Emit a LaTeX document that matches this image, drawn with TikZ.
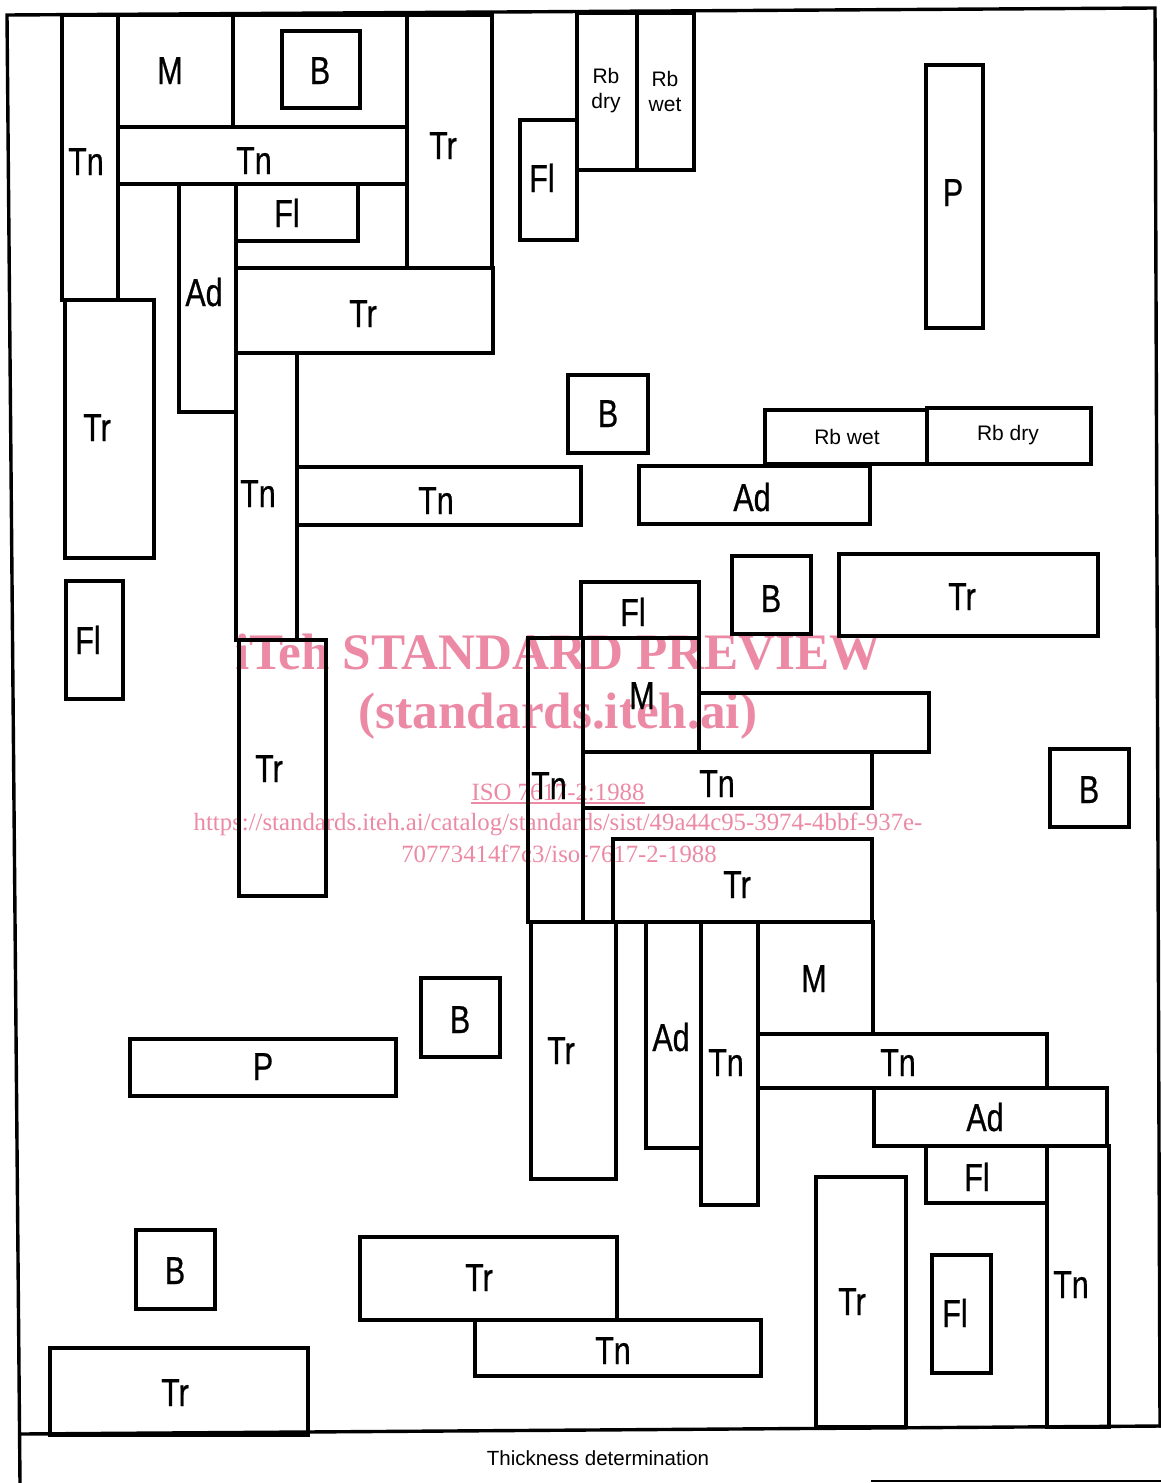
\documentclass[tikz,border=0pt]{standalone}
\usepackage{fontspec}
\setmainfont{Liberation Sans}
\newfontfamily\lblfont[FakeStretch=0.78,FakeBold=0.6]{Liberation Sans}
\newfontfamily\wmfont{Liberation Serif}
\definecolor{wmpink}{RGB}{236,138,166}
\tikzset{
  boxline/.style={draw=black, line width=3.2pt, line join=miter},
  frameline/.style={draw=black, line width=3.4pt, line cap=rect},
  lbl/.style={inner sep=0pt, font=\lblfont\fontsize{39}{39}\selectfont, text height=28pt, text depth=0pt},
  sml/.style={inner sep=0pt, font=\fontsize{21}{25}\selectfont, align=center},
  wm/.style={inner sep=0pt, text=wmpink, anchor=base},
  wmbig/.style={wm, font=\wmfont\bfseries\fontsize{51.2}{51.2}\selectfont},
  wmsmall/.style={wm, font=\wmfont\fontsize{24.8}{24.8}\selectfont},
}
% box: name, x1, y1, x2, y2, label x, label y, label
\newcommand\bx[8]{%
  \draw[boxline] (#2,#3) rectangle (#4,#5);
  \node[lbl] (#1) at (#6,#7) {#8};}
\newcommand\ebx[4]{\draw[boxline] (#1,#2) rectangle (#3,#4);}
\begin{document}
\begin{tikzpicture}[x=1pt,y=-1pt]
\useasboundingbox (0,0) rectangle (1161,1483);
\fill[white] (0,0) rectangle (1161,1483);

% watermark
\node[wmbig] (wm1) at (558,669) {iTeh STANDARD PREVIEW};
\node[wmbig] (wm2) at (558,728) {(standards.iteh.ai)};
\node[wmsmall] (wm3) at (558,800) {ISO 7617-2:1988};
\draw[wmpink, line width=1.5pt] (wm3.base west) ++(0,3) -- ([yshift=-3pt]wm3.base east);
\node[wmsmall] (wm4) at (558,830) {https://standards.iteh.ai/catalog/standards/sist/49a44c95-3974-4bbf-937e-};
\node[wmsmall] (wm5) at (559,862) {70773414f7c3/iso-7617-2-1988};

% frame
\coordinate (tl) at (7,15);
\coordinate (tr) at (1155,8);
\coordinate (bl) at (20,1483);
\coordinate (br) at (1160,1426);
\coordinate (basel) at (20,1434);
\coordinate (baser) at (1161,1426);
\draw[frameline] (bl) -- (tl) -- (tr) -- (br);
\draw[frameline] (basel) -- (baser);
\coordinate (cb1) at (871,1481);
\coordinate (cb2) at (1161,1481);
\draw[black, line width=2pt] (cb1) -- (cb2);

% top-left cluster
\bx{a1}{62}{15}{118}{300}{86}{161}{Tn}
\bx{a2}{118}{15}{233}{127}{170}{70}{M}
\ebx{233}{15}{407}{127}
\bx{a3}{282}{31}{360}{108}{320}{70}{B}
\bx{a4}{118}{127}{407}{184}{254}{160}{Tn}
\bx{a5}{407}{15}{492}{268}{443}{145}{Tr}
\bx{a6}{179}{184}{236}{412}{204}{292}{Ad}
\bx{a7}{236}{184}{358}{241}{287}{213}{Fl}
\ebx{236}{184}{407}{268}
\bx{a8}{236}{268}{493}{353}{363}{313}{Tr}
\bx{a9}{65}{300}{154}{558}{97}{427}{Tr}
\bx{a10}{66}{581}{123}{699}{88}{640}{Fl}
\bx{a11}{236}{353}{297}{640}{258}{493}{Tn}
\bx{a12}{297}{467}{581}{525}{436}{500}{Tn}
\bx{a13}{239}{640}{326}{896}{269}{768}{Tr}

% top-right
\bx{b1}{520}{120}{577}{240}{542}{178}{Fl}
\draw[boxline] (577,13) rectangle (637,170);
\node[sml] (b2) at (606,91) {Rb\\dry};
\draw[boxline] (637,13) rectangle (694,170);
\node[sml] (b3) at (665,91) {Rb\\wet};
\bx{b4}{926}{65}{983}{328}{953}{192}{P}

% middle
\bx{c1}{568}{375}{648}{453}{608}{413}{B}
\draw[boxline] (765,410) rectangle (927,464);
\node[sml] (c2) at (847,437) {Rb wet};
\draw[boxline] (927,408) rectangle (1091,464);
\node[sml] (c3) at (1008,435) {Rb dry};
\bx{c4}{639}{466}{870}{524}{752}{497}{Ad}
\bx{c5}{581}{582}{699}{638}{633}{612}{Fl}
\bx{c6}{732}{556}{811}{634}{771}{598}{B}
\bx{c7}{839}{554}{1098}{636}{962}{596}{Tr}
\bx{c8}{528}{638}{583}{922}{549}{785}{Tn}
\bx{c9}{583}{638}{699}{752}{642}{695}{M}
\ebx{699}{693}{929}{752}
\bx{c10}{583}{752}{872}{808}{717}{783}{Tn}
\bx{c11}{1050}{749}{1129}{827}{1089}{789}{B}
\bx{c12}{613}{839}{872}{922}{737}{884}{Tr}

% lower
\bx{d1}{531}{922}{616}{1179}{561}{1050}{Tr}
\bx{d2}{646}{922}{701}{1148}{671}{1037}{Ad}
\bx{d3}{701}{922}{758}{1205}{726}{1062}{Tn}
\bx{d4}{758}{922}{873}{1034}{814}{978}{M}
\bx{d5}{758}{1034}{1047}{1088}{898}{1062}{Tn}
\bx{d6}{874}{1088}{1107}{1146}{985}{1117}{Ad}
\bx{d7}{926}{1146}{1047}{1203}{977}{1177}{Fl}
\bx{d8}{1047}{1146}{1109}{1427}{1071}{1284}{Tn}
\bx{d9}{816}{1177}{906}{1427}{852}{1301}{Tr}
\bx{d10}{932}{1255}{991}{1373}{955}{1313}{Fl}
\bx{d11}{130}{1039}{396}{1096}{263}{1066}{P}
\bx{d12}{421}{978}{500}{1057}{460}{1019}{B}
\bx{d13}{136}{1230}{215}{1309}{175}{1270}{B}
\bx{d14}{360}{1237}{617}{1320}{479}{1277}{Tr}
\bx{d15}{475}{1320}{761}{1376}{613}{1350}{Tn}
\bx{d16}{50}{1348}{308}{1435}{175}{1392}{Tr}

% caption
\node[inner sep=0pt, anchor=base, font=\fontsize{20.5}{20.5}\selectfont] (cap) at (598,1465) {Thickness determination};
\end{tikzpicture}
\end{document}
